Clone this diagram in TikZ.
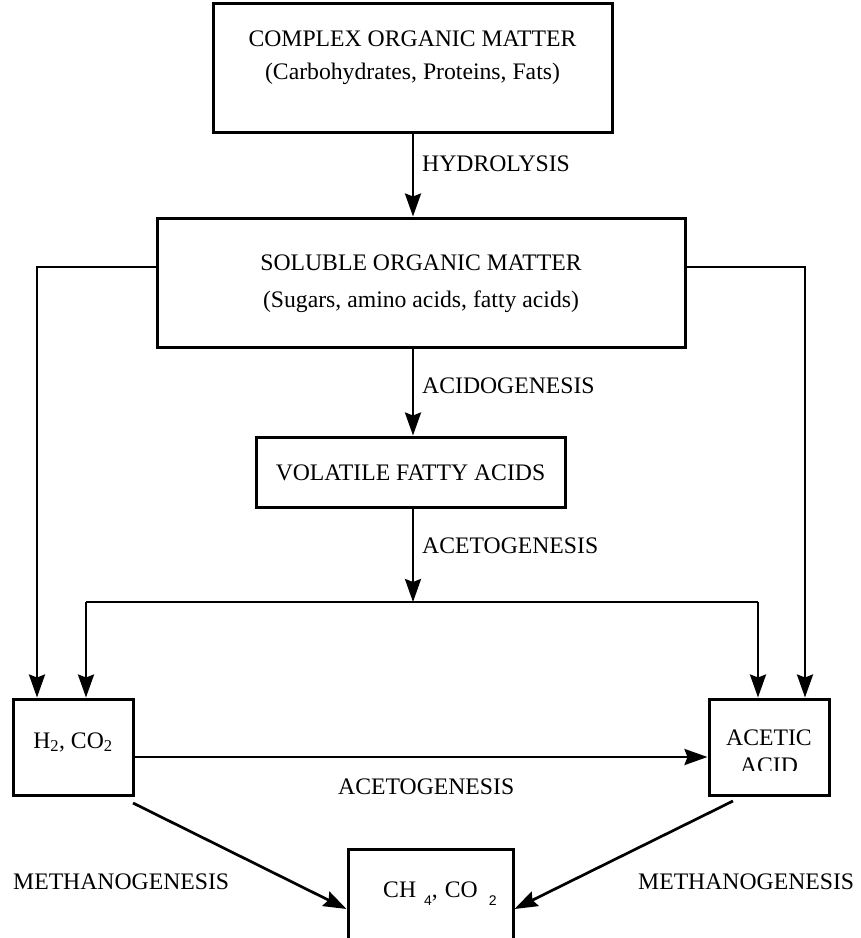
\documentclass[tikz,border=0pt]{standalone}
\usepackage{fontspec}
\setmainfont{Liberation Serif}
\newfontfamily\subsans{Liberation Sans}
\usetikzlibrary{arrows.meta,calc}
\begin{document}
\begin{tikzpicture}[x=1pt,y=-1pt,
  box/.style={draw,line width=3pt,inner sep=0pt},
  conn/.style={line width=2.7pt},
  arr/.style={conn,-{Stealth[length=23pt,width=16pt,inset=3pt]}},
  txt/.style={inner sep=0pt,font=\fontsize{23.7}{28}\selectfont},
]
\useasboundingbox (0,0) rectangle (861,938);
\clip (0,0) rectangle (861,938);

% boxes
\node[box,minimum width=399pt,minimum height=129pt] (complex) at (412.5,67.5) {};
\node[box,minimum width=528pt,minimum height=129pt] (soluble) at (421,282.5) {};
\node[box,minimum width=309pt,minimum height=70pt] (vfa) at (410.5,472) {};
\node[box,minimum width=120pt,minimum height=96pt] (h2) at (73,747) {};
\node[box,minimum width=120pt,minimum height=96pt] (acetic) at (769,747) {};
\node[box,minimum width=165pt,minimum height=111pt] (ch4) at (430.5,904.5) {};

% texts
\node[txt,anchor=base] (t1a) at (412.5,46) {COMPLEX ORGANIC MATTER};
\node[txt,anchor=base] (t1b) at (412.5,79) {(Carbohydrates, Proteins, Fats)};
\node[txt,anchor=base] (t2a) at (421,270) {SOLUBLE ORGANIC MATTER};
\node[txt,anchor=base] (t2b) at (421,307) {(Sugars, amino acids, fatty acids)};
\node[txt,anchor=base] (t3) at (410.5,480) {VOLATILE FATTY ACIDS};
\node[txt,anchor=base] (t4) at (73,748) {H\textsubscript{2}, CO\textsubscript{2}};
\node[txt,anchor=base] (t5a) at (769,745) {ACETIC};
\begin{scope}
\clip (709,699) rectangle (829,770);
\node[txt,anchor=base] (t5b) at (769,773) {ACID};
\end{scope}
\node[txt,anchor=base west] (t6) at (383,897) {CH\hspace{8pt}\raisebox{-8pt}{\subsans\fontsize{14}{14}\selectfont 4},\hspace{7pt}CO\hspace{11pt}\raisebox{-8pt}{\subsans\fontsize{14}{14}\selectfont 2}};

\node[txt,anchor=base west] (lhyd) at (422,171) {HYDROLYSIS};
\node[txt,anchor=base west] (lacid) at (422,393) {ACIDOGENESIS};
\node[txt,anchor=base west] (laceto) at (422,553) {ACETOGENESIS};
\node[txt,anchor=base west] (laceto2) at (338,794) {ACETOGENESIS};
\node[txt,anchor=base west] (lmeth1) at (13,889) {METHANOGENESIS};
\node[txt,anchor=base west] (lmeth2) at (638,889) {METHANOGENESIS};

% helper coordinates
\coordinate (axis) at (413,0);
\coordinate (split) at (413,602);
\coordinate (jl) at (86,602);
\coordinate (jr) at (758,602);
\coordinate (ll) at (37,267);
\coordinate (rr) at (805,267);
\coordinate (hy) at (0,757);
\coordinate (d1) at (133,803);
\coordinate (d2) at (733,801);
\coordinate (my) at (0,909);

% connectors
\draw[arr] (complex.south -| axis) -- (soluble.north -| axis);
\draw[arr] (soluble.south -| axis) -- (vfa.north -| axis);
\draw[arr] (vfa.south -| axis) -- (split);
\draw[conn] (jl) -- (jr);
\draw[arr] (jl) -- (jl |- h2.north);
\draw[arr] (jr) -- (jr |- acetic.north);
\draw[arr] (soluble.west |- ll) -- (ll) -- (ll |- h2.north);
\draw[arr] (soluble.east |- rr) -- (rr) -- (rr |- acetic.north);
\draw[arr] (h2.east |- hy) -- (acetic.west |- hy);
\draw[arr] (d1) -- (ch4.west |- my);
\draw[arr] (d2) -- (ch4.east |- my);
\end{tikzpicture}
\end{document}
